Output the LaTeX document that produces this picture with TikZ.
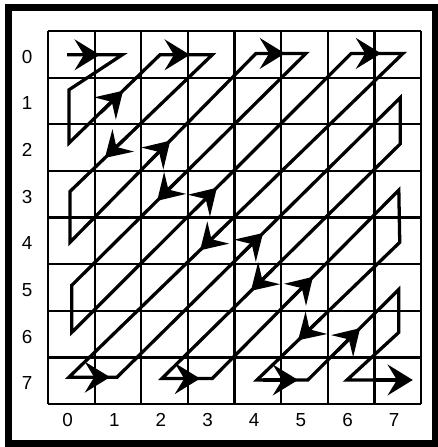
\documentclass[tikz,border=0pt]{standalone}
\usepackage{fontspec}
\setmainfont{Liberation Sans}
\usetikzlibrary{arrows.meta}

\begin{document}
\begin{tikzpicture}[yscale=-1,
    scanline/.style={line width=2pt},
    scanarrow/.style={line width=2pt,-{Stealth[length=5.4mm,width=6.6mm,inset=2mm]}},
    idx/.style={font=\fontsize{11.5}{13}\selectfont}]
  \useasboundingbox (-1.029,-0.665) rectangle (8.360,8.917);

  % outer frame
  \draw[line width=4pt] (-0.847,-0.504) rectangle (8.307,8.842);

  % 8x8 block
  \draw[line width=1.4pt] (0,0) grid (8,8);

  % row and column indices
  \foreach \i in {0,...,7} {
    \node[idx] (row\i) at (-0.45,\i+0.55) {\i};
    \node[idx] (col\i) at (\i+0.42,8.34) {\i};
  }

  % zigzag scan path
  \draw[scanline] (0.41,0.51) -- (1.59,0.51) -- (0.45,1.26) -- (0.45,2.40)
    -- (2.40,0.51) -- (3.52,0.51) -- (0.47,3.44) -- (0.47,4.53)
    -- (4.46,0.48) -- (5.53,0.48) -- (0.51,5.45) -- (0.51,6.46)
    -- (6.50,0.48) -- (7.61,0.48) -- (0.45,7.42) -- (1.48,7.42)
    -- (7.55,1.43) -- (7.55,2.42) -- (2.44,7.45) -- (3.52,7.45)
    -- (7.52,3.41) -- (7.54,4.53) -- (4.48,7.48) -- (5.57,7.48)
    -- (7.52,5.54) -- (7.52,6.46) -- (6.41,7.48) -- (7.20,7.48);

  % arrow heads, top row
  \draw[scanarrow] (0.46,0.51) -- (1.11,0.51);
  \draw[scanarrow] (2.44,0.51) -- (3.04,0.51);
  \draw[scanarrow] (4.48,0.48) -- (5.08,0.48);
  \draw[scanarrow] (6.54,0.48) -- (7.14,0.48);

  % arrow heads, bottom row
  \draw[scanarrow] (0.60,7.42) -- (1.33,7.42);
  \draw[scanarrow] (2.50,7.45) -- (3.26,7.45);
  \draw[scanarrow] (4.60,7.48) -- (5.36,7.48);
  \draw[scanarrow] (7.00,7.48) -- (7.82,7.48);

  % arrow heads along the diagonal
  \draw[scanarrow] (1.13,1.75) -- (1.61,1.28);
  \draw[scanarrow] (1.70,2.26) -- (1.22,2.72);
  \draw[scanarrow] (2.14,2.83) -- (2.62,2.35);
  \draw[scanarrow] (2.82,3.16) -- (2.34,3.64);
  \draw[scanarrow] (3.14,3.84) -- (3.62,3.36);
  \draw[scanarrow] (3.74,4.23) -- (3.26,4.70);
  \draw[scanarrow] (4.13,4.80) -- (4.61,4.33);
  \draw[scanarrow] (4.83,5.10) -- (4.35,5.57);
  \draw[scanarrow] (5.20,5.75) -- (5.68,5.27);
  \draw[scanarrow] (5.84,6.17) -- (5.36,6.63);
  \draw[scanarrow] (6.21,6.85) -- (6.69,6.37);
\end{tikzpicture}
\end{document}
